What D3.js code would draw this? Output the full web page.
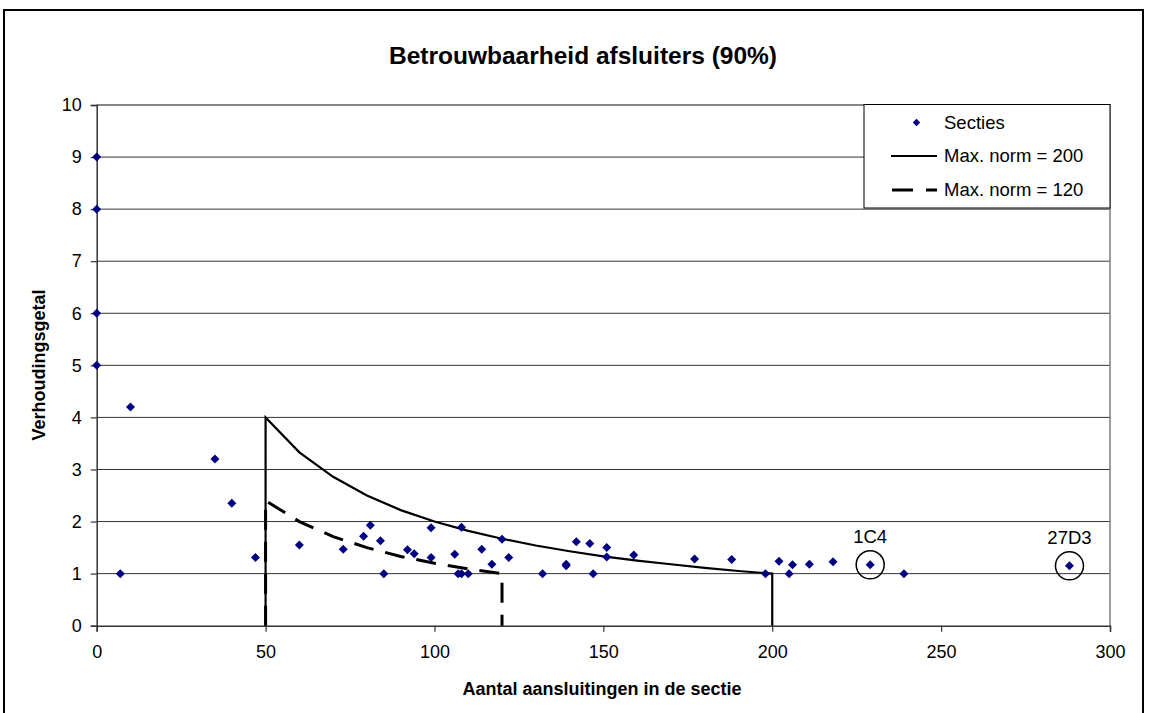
<!DOCTYPE html>
<html>
<head>
<meta charset="utf-8">
<script src="https://cdn.jsdelivr.net/npm/d3@7"></script>
<style>
  body { margin: 0; background: #fff; }
  text { font-family: "Liberation Sans", Arial, sans-serif; }
</style>
</head>
<body>
<script>
// Data
var sectieX = [0, 0, 0, 0, 7, 10, 35, 40, 47, 60, 73, 79, 81, 84, 85, 92, 94, 99, 99, 106,
  107, 108, 108, 110, 114, 117, 120, 122, 132, 139, 139, 142, 146, 147, 151, 151, 159,
  177, 188, 198, 202, 205, 206, 211, 218, 229, 239, 288];
var sectieY = [9, 8, 6, 5, 1, 4.2, 3.2, 2.35, 1.31, 1.55, 1.47, 1.72, 1.93, 1.63, 1, 1.46, 1.38, 1.88, 1.31, 1.37,
  1, 1.89, 1, 1, 1.47, 1.18, 1.66, 1.31, 1, 1.18, 1.15, 1.61, 1.58, 1, 1.5, 1.32, 1.36,
  1.28, 1.27, 1, 1.24, 1, 1.17, 1.18, 1.23, 1.17, 1, 1.15];

// Max. norm = 200
var norm200X = [50, 50, 60, 70, 80, 90, 100, 110, 120, 130, 140, 150, 160, 170, 180, 190, 200, 200];
var norm200Y = [0, 4, 3.33, 2.86, 2.5, 2.22, 2, 1.82, 1.67, 1.54, 1.43, 1.33, 1.25, 1.18, 1.11, 1.05, 1, 0];

// Max. norm = 120
var norm120X = [50, 50, 60, 70, 80, 90, 100, 110, 120, 120];
var norm120Y = [0, 2.4, 2, 1.71, 1.5, 1.33, 1.2, 1.09, 1, 0];

// Circled sections
var labelNames = ["1C4", "27D3"];
var labelX = [229, 288];
var labelY = [1.17, 1.15];

var xTicks = [0, 50, 100, 150, 200, 250, 300];
var yTicks = [0, 1, 2, 3, 4, 5, 6, 7, 8, 9, 10];

var legendNames = ["Secties", "Max. norm = 200", "Max. norm = 120"];

// Layout
var svgWidth = 1149;
var svgHeight = 713;
var plotLeft = 96.7;
var plotRight = 1110;
var plotTop = 105;
var plotBottom = 625.7;

var svg = d3.select("body")
  .append("svg")
  .attr("width", svgWidth)
  .attr("height", svgHeight);

// outer chart frame (bottom edge falls outside the picture)
svg.append("rect")
  .attr("x", 4)
  .attr("y", 10)
  .attr("width", 1139)
  .attr("height", 730)
  .attr("fill", "#fff")
  .attr("stroke", "#000")
  .attr("stroke-width", 2);

var x = d3.scaleLinear().domain([0, 300]).range([plotLeft, plotRight]);
var y = d3.scaleLinear().domain([0, 10]).range([plotBottom, plotTop]);

// gridlines
svg.append("g")
  .selectAll("line")
  .data(yTicks.slice(1))
  .enter()
  .append("line")
  .attr("x1", plotLeft)
  .attr("x2", plotRight)
  .attr("y1", function(d) { return y(d); })
  .attr("y2", function(d) { return y(d); })
  .attr("stroke", "#333")
  .attr("stroke-width", 1);

// plot area border (top + right)
svg.append("path")
  .attr("d", "M" + plotLeft + "," + plotTop + "H" + plotRight + "V" + plotBottom)
  .attr("fill", "none")
  .attr("stroke", "#808080")
  .attr("stroke-width", 1.5);

// axes
var xAxis = d3.axisBottom(x).tickValues(xTicks).tickSize(6).tickPadding(9);
var yAxis = d3.axisLeft(y).tickValues(yTicks).tickSize(6).tickPadding(9);

var xAxisG = svg.append("g")
  .attr("transform", "translate(0," + plotBottom + ")")
  .call(xAxis);
var yAxisG = svg.append("g")
  .attr("transform", "translate(" + plotLeft + ",0)")
  .call(yAxis);

[xAxisG, yAxisG].forEach(function(g) {
  g.select(".domain").attr("stroke", "#333").attr("stroke-width", 1.5);
  g.selectAll(".tick line").attr("stroke", "#333").attr("stroke-width", 1.2);
  g.selectAll(".tick text")
    .attr("fill", "#000")
    .style("font-size", "18px")
    .style("font-family", "'Liberation Sans', Arial, sans-serif");
});
xAxisG.selectAll(".tick text").attr("dy", "0.95em");

// norm lines
var line = d3.line()
  .x(function(d) { return x(d[0]); })
  .y(function(d) { return y(d[1]); });

svg.append("path")
  .datum(d3.zip(norm120X, norm120Y))
  .attr("d", line)
  .attr("fill", "none")
  .attr("stroke", "#000")
  .attr("stroke-width", 3)
  .attr("stroke-dasharray", "20 12");

svg.append("path")
  .datum(d3.zip(norm200X, norm200Y))
  .attr("d", line)
  .attr("fill", "none")
  .attr("stroke", "#000")
  .attr("stroke-width", 2.2);

// section markers
var diamond = "M0,-4.5L4.5,0L0,4.5L-4.5,0Z";
svg.append("g")
  .selectAll("path")
  .data(d3.zip(sectieX, sectieY))
  .enter()
  .append("path")
  .attr("d", diamond)
  .attr("transform", function(d) {
    return "translate(" + x(d[0]) + "," + y(d[1]) + ")";
  })
  .attr("fill", "#000080");

// circled sections with labels
var ann = svg.append("g")
  .selectAll("g")
  .data(d3.zip(labelNames, labelX, labelY))
  .enter()
  .append("g")
  .attr("transform", function(d) {
    return "translate(" + x(d[1]) + "," + y(d[2]) + ")";
  });
ann.append("circle")
  .attr("r", 14)
  .attr("fill", "none")
  .attr("stroke", "#000")
  .attr("stroke-width", 1.5);
ann.append("text")
  .attr("y", -22)
  .attr("text-anchor", "middle")
  .style("font-size", "18.5px")
  .text(function(d) { return d[0]; });

// legend
var legend = svg.append("g").attr("transform", "translate(864,104.5)");
legend.append("rect")
  .attr("width", 246)
  .attr("height", 103.5)
  .attr("fill", "#fff")
  .attr("stroke", "#000")
  .attr("stroke-width", 1);

legend.append("path")
  .attr("d", "M0,-3.7L3.7,0L0,3.7L-3.7,0Z")
  .attr("transform", "translate(52.5,18)")
  .attr("fill", "#000080");
legend.append("line")
  .attr("x1", 27).attr("x2", 73).attr("y1", 51.5).attr("y2", 51.5)
  .attr("stroke", "#000").attr("stroke-width", 2.2);
legend.append("line")
  .attr("x1", 28).attr("x2", 73).attr("y1", 85.5).attr("y2", 85.5)
  .attr("stroke", "#000").attr("stroke-width", 3)
  .attr("stroke-dasharray", "21 13");

legend.selectAll("text.leg")
  .data(legendNames)
  .enter()
  .append("text")
  .attr("class", "leg")
  .attr("x", 80)
  .attr("y", function(d, i) { return 24 + i * 33.5; })
  .style("font-size", "18.5px")
  .text(function(d) { return d; });

// titles
svg.append("text")
  .attr("x", 583)
  .attr("y", 64)
  .attr("text-anchor", "middle")
  .style("font-size", "24.5px")
  .style("font-weight", "bold")
  .text("Betrouwbaarheid afsluiters (90%)");

svg.append("text")
  .attr("x", 602)
  .attr("y", 695)
  .attr("text-anchor", "middle")
  .style("font-size", "18px")
  .style("font-weight", "bold")
  .text("Aantal aansluitingen in de sectie");

svg.append("text")
  .attr("transform", "translate(45,365)rotate(-90)")
  .attr("text-anchor", "middle")
  .style("font-size", "18px")
  .style("font-weight", "bold")
  .text("Verhoudingsgetal");
</script>
</body>
</html>
